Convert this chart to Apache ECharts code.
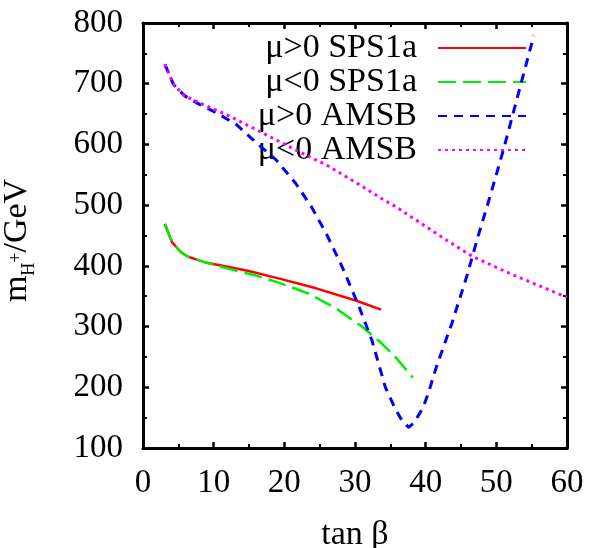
<!DOCTYPE html>
<html>
<head>
<meta charset="utf-8">
<script src="https://cdn.jsdelivr.net/npm/echarts@6/dist/echarts.min.js"></script>
<style>
  html, body { margin: 0; padding: 0; background: #fff; }
  #chart { width: 589px; height: 548px; }
</style>
</head>
<body>
<div id="chart"></div>
<script>
// tan beta vs charged higgs mass
var xTicks = [0, 10, 20, 30, 40, 50, 60];
var yTicks = [100, 200, 300, 400, 500, 600, 700, 800];

var sps1aPos = [[3.1,469],[4.1,439],[5.4,422],[6.4,415],[9.0,405],[12.2,398],[15.1,391],
                [19.3,379],[24.5,363],[30.1,343],[33.7,328]];
var sps1aNeg = [[3.1,469],[4.1,439],[5.4,422],[6.4,415],[9.0,405],[12.2,395],[16.0,384],
                [19.3,372],[23.5,354],[27.3,330],[31.0,300],[33.8,272],[36.0,246],[38.2,216]];
var amsbPos = [[3.1,732],[4.3,699],[5.9,680],[8.0,666],[10.4,652],[13.2,633],[16.0,603],
               [18.8,575],[21.6,536],[23.8,498],[25.9,454],[28.2,398],[30.6,332],[32.4,277],
               [34.3,200],[35.6,167],[36.6,146],[37.6,134],[38.4,142],[39.6,166],[40.4,191],
               [41.5,233],[43.7,305],[45.8,382],[47.4,448],[49.1,514],[51.0,591],[53.1,683],[55.3,779]];
var amsbNeg = [[3.1,732],[4.3,699],[5.9,680],[8.5,666],[12.2,647],[16.9,619],[21.6,591],
               [26.3,564],[31.0,531],[34.0,509],[35.7,498],[43.0,442],[46.7,415],[52.4,385],
               [59.4,351],[60,349]];

var names = ['μ>0 SPS1a', 'μ<0 SPS1a', 'μ>0 AMSB', 'μ<0 AMSB'];
var colors = ['#ff0000', '#00ee00', '#0000ff', '#ff00ff'];
var dashes = ['solid', [18, 7], [9, 7], [3, 4]];
var widths = [2.5, 2.5, 3, 3];
var sets = [sps1aPos, sps1aNeg, amsbPos, amsbNeg];

var font = 'Liberation Serif';

function boxAxis(pos, isX, showLabel) {
  var ax = {
    type: 'value',
    position: pos,
    min: isX ? xTicks[0] : yTicks[0],
    max: isX ? xTicks[xTicks.length - 1] : yTicks[yTicks.length - 1],
    interval: isX ? 10 : 100,
    axisLine: { show: true, onZero: false, lineStyle: { color: '#000', width: 3 } },
    axisTick: { show: true, inside: true, length: 6, lineStyle: { color: '#000', width: 2.5 } },
    minorTick: { show: true, splitNumber: 2, length: 4, lineStyle: { color: '#000', width: 2 } },
    splitLine: { show: false },
    axisLabel: { show: showLabel, color: '#000', fontFamily: font, fontSize: 33,
                 margin: isX ? 19 : 20 }
  };
  return ax;
}

var xMain = boxAxis('bottom', true, true);
xMain.name = 'tan β';
xMain.nameLocation = 'middle';
xMain.nameGap = 70;
xMain.nameTextStyle = { color: '#000', fontFamily: font, fontSize: 34 };

var yMain = boxAxis('left', false, true);
yMain.name = '{a|m}{b|H}{c|+}{a|/GeV}';
yMain.nameLocation = 'middle';
yMain.nameGap = 105;
yMain.nameTextStyle = {
  color: '#000', fontFamily: font,
  padding: [0, 10, 0, 0],
  rich: {
    a: { fontFamily: font, fontSize: 34, color: '#000', lineHeight: 42, verticalAlign: 'middle' },
    b: { fontFamily: font, fontSize: 18, color: '#000', lineHeight: 18, verticalAlign: 'bottom' },
    c: { fontFamily: font, fontSize: 18, color: '#000', lineHeight: 18, verticalAlign: 'top',
         padding: [11, 0, 0, 0] }
  }
};

var series = [];
for (var i = 0; i < sets.length; i++) {
  series.push({
    name: names[i],
    type: 'line',
    data: sets[i],
    xAxisIndex: 0,
    yAxisIndex: 0,
    symbol: 'none',
    smooth: false,
    lineStyle: { color: colors[i], width: widths[i], type: dashes[i] },
    itemStyle: { color: colors[i] },
    z: 3 + i
  });
}

var chart = echarts.init(document.getElementById('chart'));
chart.setOption({
  animation: false,
  backgroundColor: '#fff',
  grid: { left: 143, right: 22, top: 23, bottom: 100, containLabel: false, outerBoundsMode: 'none' },
  xAxis: [xMain, boxAxis('top', true, false)],
  yAxis: [yMain, boxAxis('right', false, false)],
  legend: {
    orient: 'vertical',
    align: 'right',
    right: 57,
    top: 26,
    itemWidth: 88,
    itemHeight: 14,
    itemGap: 0,
    data: names,
    itemStyle: { color: 'transparent', borderColor: 'transparent', borderWidth: 0, opacity: 0 },
    textStyle: { color: '#000', fontFamily: font, fontSize: 34, lineHeight: 34, padding: [0, 16, 0, 0] }
  },
  series: series
});
</script>
</body>
</html>
